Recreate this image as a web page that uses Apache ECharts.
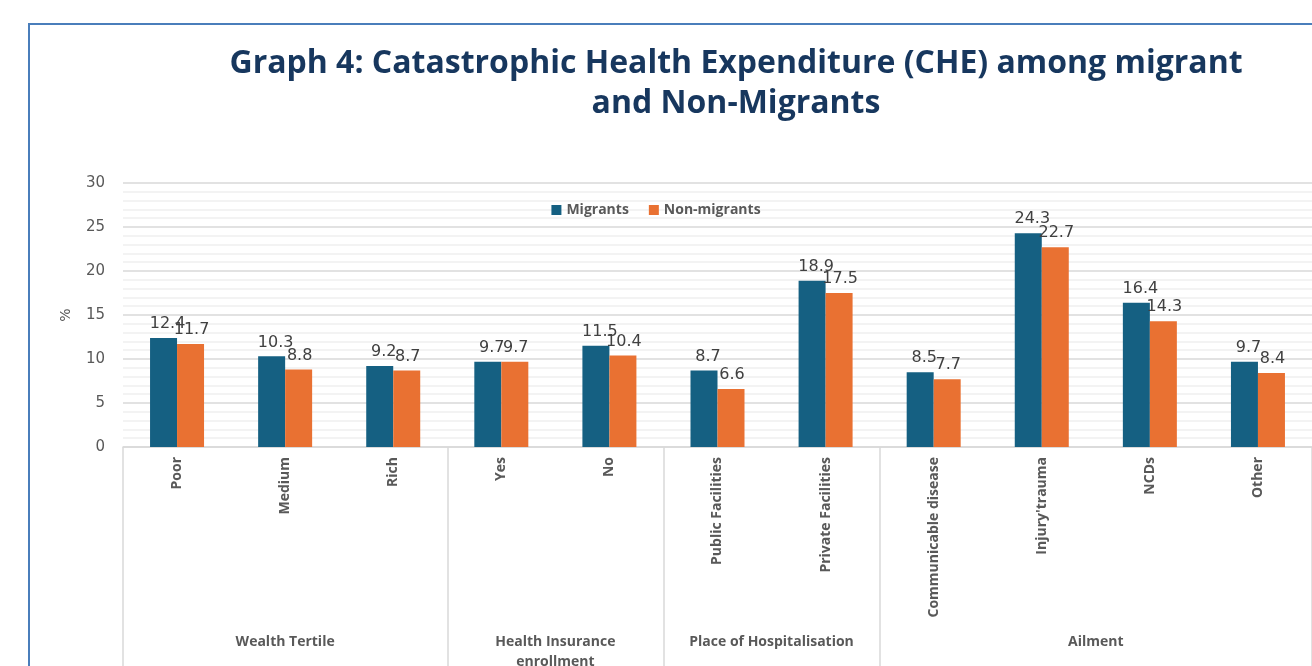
<!DOCTYPE html>
<html>
<head>
<meta charset="utf-8">
<script src="https://cdn.jsdelivr.net/npm/echarts@6/dist/echarts.min.js"></script>
<style>
html,body{margin:0;padding:0;background:#fff;overflow:hidden;}
#chart{width:1312px;height:666px;}
</style>
</head>
<body>
<div id="chart"></div>
<script>
const categories = ['Poor','Medium','Rich','Yes','No','Public Facilities','Private Facilities','Communicable disease',"Injury'trauma",'NCDs','Other'];
const migrants = [12.4,10.3,9.2,9.7,11.5,8.7,18.9,8.5,24.3,16.4,9.7];
const nonMigrants = [11.7,8.8,8.7,9.7,10.4,6.6,17.5,7.7,22.7,14.3,8.4];
const groupNames = ['Wealth Tertile','Health Insurance\nenrollment','Place of Hospitalisation','Ailment'];
const groupSizes = [3,2,2,4];
const yTicks = [0,5,10,15,20,25,30];

// half-band point axis for group labels and separators
const nPts = categories.length*2 + 1;
const groupPts = [];
const labelAt = {};
const sepAt = {0:true};
let acc = 0;
groupSizes.forEach((s,i)=>{
  labelAt[(acc*2 + s)] = groupNames[i];
  acc += s;
  sepAt[acc*2] = true;
});
for (let i=0;i<nPts;i++) groupPts.push('p'+i);

const chart = echarts.init(document.getElementById('chart'));
const gray = '#595959';
chart.setOption({
  backgroundColor:'#fff',
  animation:false,
  title:{
    text:'Graph 4: Catastrophic Health Expenditure (CHE) among migrant\nand Non-Migrants',
    left:731, top:39, textAlign:'center',
    textStyle:{fontFamily:'Open Sans',fontWeight:'bold',fontSize:32,color:'#17375e',lineHeight:40}
  },
  graphic:[{type:'rect',shape:{x:29,y:24,width:1400,height:800},style:{fill:'none',stroke:'#4a7ebb',lineWidth:2},silent:true}],
  legend:{
    data:['Migrants','Non-migrants'],
    left:'center', top:198,
    itemWidth:10,itemHeight:10,itemGap:20,
    icon:'rect',
    textStyle:{fontFamily:'Open Sans',fontWeight:'bold',fontSize:14,color:gray}
  },
  grid:{left:123,right:0,top:183,height:264,containLabel:false,outerBoundsMode:'none'},
  xAxis:[{
    type:'category',data:categories,
    axisLine:{show:true,lineStyle:{color:'#d9d9d9',width:1.5}},
    axisTick:{show:false},
    axisLabel:{rotate:90,interval:0,margin:10,fontFamily:'Open Sans',fontWeight:'bold',fontSize:14,color:gray}
  },{
    type:'category',data:groupPts,boundaryGap:false,position:'bottom',
    axisLine:{show:false},
    axisTick:{show:true,length:240,interval:(i)=>!!sepAt[i],lineStyle:{color:'#d9d9d9',width:1.5}},
    axisLabel:{interval:0,margin:185,formatter:(v,i)=>labelAt[i]||'',
      fontFamily:'Open Sans',fontWeight:'bold',fontSize:14,color:gray,lineHeight:20,align:'center'}
  }],
  yAxis:{
    type:'value',min:yTicks[0],max:yTicks[yTicks.length-1],interval:5,
    name:'%',nameLocation:'middle',nameGap:50,nameRotate:90,
    nameTextStyle:{fontFamily:'DejaVu Sans',fontSize:14,color:gray},
    axisLine:{show:false},axisTick:{show:false},
    axisLabel:{margin:18,fontFamily:'DejaVu Sans',fontSize:15,color:gray},
    splitLine:{lineStyle:{color:'#d9d9d9',width:1.5}},
    minorTick:{show:false,splitNumber:5},
    minorSplitLine:{show:true,lineStyle:{color:'#efefef',width:1.5}}
  },
  series:[{
    name:'Migrants',type:'bar',data:migrants,barWidth:27,barGap:'0%',
    itemStyle:{color:'#156082'},
    label:{show:true,position:'top',distance:6,offset:[4,0],fontFamily:'DejaVu Sans',fontSize:16,color:'#404040'}
  },{
    name:'Non-migrants',type:'bar',data:nonMigrants,barWidth:27,
    itemStyle:{color:'#e97132'},
    label:{show:true,position:'top',distance:6,offset:[1,0],fontFamily:'DejaVu Sans',fontSize:16,color:'#404040'}
  }]
});
</script>
</body>
</html>
